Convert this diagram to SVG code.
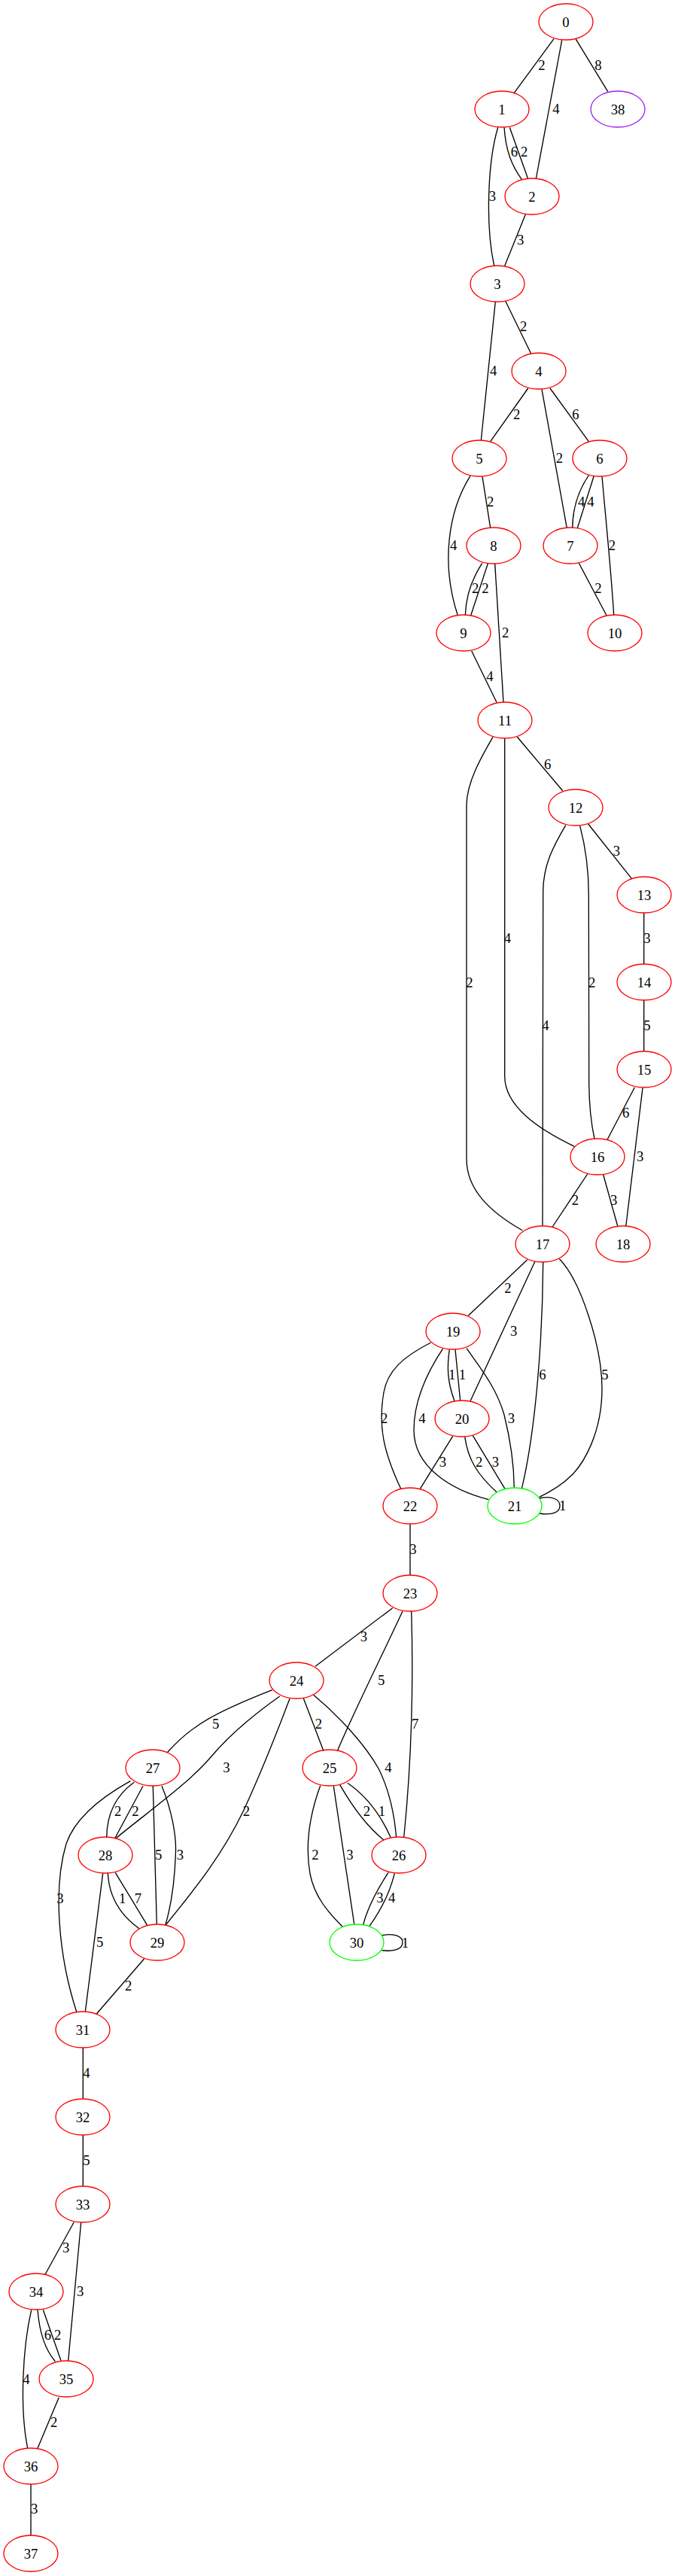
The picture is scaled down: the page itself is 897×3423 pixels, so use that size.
<svg xmlns="http://www.w3.org/2000/svg" width="897" height="3423" viewBox="0 0 897 3423">
<style>
.n ellipse{fill:none;stroke:#ff0000;stroke-width:1.33}
.g ellipse{stroke:#00ff00}
.p ellipse{stroke:#a020f0}
text{font-family:"Liberation Serif","Times New Roman",serif;font-size:18.67px;fill:#000;text-anchor:middle}
#edges path{fill:none;stroke:#000;stroke-width:1.33}
</style>
<rect width="897" height="3423" fill="#fff"/>
<g id="edges">
<path d="M736,51.7 L683.3,123.3"/>
<path d="M746.7,53.3 L712.3,237.7"/>
<path d="M765,51.7 L807.7,121.7"/>
<path d="M670,169.3 C672,200 680,220 693.3,238.3"/>
<path d="M677.3,169.3 L701.7,237.7"/>
<path d="M661.7,169.3 C648,215 645,300 656.7,353.3"/>
<path d="M698.3,285 L670.7,353.3"/>
<path d="M671.7,400 L705.7,470"/>
<path d="M658.3,401 L639.3,585"/>
<path d="M701.7,516 L651.7,586.7"/>
<path d="M720,517.3 L753.3,701.7"/>
<path d="M731,516 L782.3,586.7"/>
<path d="M641,633.3 L651.7,701.7"/>
<path d="M625,632.3 C595,680 586,750 608.3,817.7"/>
<path d="M782.3,631.7 C770,650 761,675 760.7,701.7"/>
<path d="M789.3,632.3 L767.3,701.7"/>
<path d="M800,633.3 C806,700 813,770 815.7,817.7"/>
<path d="M769.3,748.3 L806,817.7"/>
<path d="M640.7,748.3 C628,768 619,790 618.3,817.7"/>
<path d="M648.3,749 L625.7,817.7"/>
<path d="M657.7,749 L669,933.3"/>
<path d="M626.7,865 L660,933.3"/>
<path d="M687.3,979.3 L747.7,1050.7"/>
<path d="M655,979.3 C640,1005 620,1040 620,1070 L620,1540 C620,1580 650,1610 694.3,1635"/>
<path d="M670.7,981 L670.7,1430 C670.7,1470 715,1500 763.3,1523.3"/>
<path d="M751.7,1096.7 C735,1125 721.7,1150 721.7,1185 L721,1629"/>
<path d="M770.7,1097.3 C778,1125 782.3,1160 782.3,1190 L782.7,1440 C783,1475 786,1495 790,1513.3"/>
<path d="M781.7,1095 L839.3,1167.3"/>
<path d="M855.7,1213 L855.7,1281"/>
<path d="M855.7,1329 L855.7,1397"/>
<path d="M843.3,1445 L806.7,1515"/>
<path d="M854,1445.7 L831.7,1630"/>
<path d="M780.7,1560 L734.3,1630"/>
<path d="M801.7,1561 L821,1630"/>
<path d="M700.7,1674 L622.3,1748.3"/>
<path d="M711,1676 L625,1861.7"/>
<path d="M721.7,1676.7 C721,1780 712,1900 693.3,1978.3"/>
<path d="M743.3,1672.7 C772,1702 800,1790 800,1845 C800,1905 775,1945 760,1960 C745,1975 730,1983 716.7,1989.3"/>
<path d="M572.7,1784 C535,1803 515,1822 510,1850 C502,1895 510,1930 532.7,1978.3"/>
<path d="M588.3,1792.3 C570,1820 550,1860 550,1900 C550,1950 600,1980 649.3,1992.7"/>
<path d="M597.3,1793.3 C594,1815 594,1835 604,1861.7"/>
<path d="M605,1793.3 L611.7,1861.7"/>
<path d="M620,1791.7 C640,1820 660,1845 670,1880 C680,1920 683,1950 683.3,1976.7"/>
<path d="M601.7,1908.3 L558.3,1978.3"/>
<path d="M617.7,1909.3 C622,1940 635,1960 660,1982.7"/>
<path d="M628.3,1907.7 L671,1978.3"/>
<path d="M716.7,1991 C735,1987 744,1993 744,2001 C744,2009 735,2014 716.7,2011"/>
<path d="M545,2025.7 L545,2093.3"/>
<path d="M521.7,2136.7 L419,2214.3"/>
<path d="M535,2141 C510,2195 470,2275 448.3,2326.7"/>
<path d="M546.7,2141 C549,2220 548,2330 536.7,2441.7"/>
<path d="M403.3,2256.7 L430,2326.7"/>
<path d="M416.7,2252.3 C450,2280 485,2318 503,2350 C518,2380 524,2410 526.7,2441.7"/>
<path d="M451.7,2371.7 C465,2395 485,2425 510,2445"/>
<path d="M461.7,2369.3 C485,2385 505,2410 519.3,2441.7"/>
<path d="M425.7,2372.7 C412,2410 405,2450 412,2490 C418,2520 435,2540 455,2560"/>
<path d="M443.3,2373.3 L470.7,2556.7"/>
<path d="M516,2488.3 C505,2505 490,2530 482.7,2557.3"/>
<path d="M524.3,2489.3 C518,2515 505,2540 491,2559.3"/>
<path d="M507.3,2571.7 C526,2568 535,2574 535,2581 C535,2589 526,2594 507.3,2591.7"/>
<path d="M361.7,2245.7 C320,2262 280,2280 260,2295 C245,2305 232,2318 222.7,2328.3"/>
<path d="M371.7,2254 C335,2280 305,2305 280,2335 C250,2370 200,2405 153.3,2443.3"/>
<path d="M385,2257.3 C365,2310 345,2360 323.3,2406.7 C290,2475 250,2520 220,2558.3"/>
<path d="M173.3,2366.7 C135,2388 100,2415 88,2450 C70,2510 78,2600 101.7,2673.3"/>
<path d="M178.3,2368.3 C155,2385 142,2410 141.7,2441.7"/>
<path d="M190,2373.3 L152.7,2442.7"/>
<path d="M203.3,2373.3 L208.3,2556.7"/>
<path d="M215,2373.3 C228,2405 235,2440 233.3,2465 C232,2500 228,2530 220,2557.3"/>
<path d="M143.3,2489 C145,2520 160,2545 185,2562.7"/>
<path d="M153.3,2488.3 L195.7,2558.3"/>
<path d="M136.7,2489.3 L113.3,2673.3"/>
<path d="M191.7,2602.7 L128.3,2676"/>
<path d="M110.3,2721 L110.3,2789"/>
<path d="M110.3,2837 L110.3,2905"/>
<path d="M98.3,2952.7 L60,3022.3"/>
<path d="M107.7,2953.3 L90.7,3136.7"/>
<path d="M41.7,3069.3 C30,3120 26,3200 36.7,3253.3"/>
<path d="M50,3069.3 C52,3095 58,3120 73.3,3137.7"/>
<path d="M57.3,3069.3 L81,3136.7"/>
<path d="M78.3,3185.7 L50,3253.3"/>
<path d="M41,3301 L41,3369"/>
<g id="edge-labels">
<text x="720" y="93">2</text>
<text x="739" y="150.5">4</text>
<text x="795" y="92.5">8</text>
<text x="683.3" y="208">6</text>
<text x="696.7" y="208">2</text>
<text x="654.3" y="266.5">3</text>
<text x="691.7" y="324.8">3</text>
<text x="695.7" y="439.8">2</text>
<text x="655.7" y="498.8">4</text>
<text x="686.7" y="556.5">2</text>
<text x="743.3" y="614.8">2</text>
<text x="765" y="556.5">6</text>
<text x="651.7" y="673">2</text>
<text x="602.7" y="730.5">4</text>
<text x="772.7" y="673">4</text>
<text x="785" y="673">4</text>
<text x="813.3" y="730.5">2</text>
<text x="795" y="788">2</text>
<text x="631.7" y="788">2</text>
<text x="645" y="788">2</text>
<text x="671.7" y="847">2</text>
<text x="651" y="904.8">4</text>
<text x="727.7" y="1021.5">6</text>
<text x="624" y="1311.5">2</text>
<text x="674.3" y="1252.5">4</text>
<text x="725" y="1369">4</text>
<text x="786.7" y="1311.5">2</text>
<text x="819.3" y="1136.5">3</text>
<text x="860" y="1252.5">3</text>
<text x="860" y="1368.8">5</text>
<text x="831.7" y="1484.8">6</text>
<text x="850.7" y="1542.5">3</text>
<text x="764.3" y="1600.8">2</text>
<text x="815.7" y="1600.8">3</text>
<text x="675" y="1717.5">2</text>
<text x="682.7" y="1774.8">3</text>
<text x="721" y="1832.5">6</text>
<text x="804" y="1832.5">5</text>
<text x="510.7" y="1890.8">2</text>
<text x="561" y="1890.8">4</text>
<text x="600.7" y="1833">1</text>
<text x="614.3" y="1833">1</text>
<text x="679.3" y="1890.8">3</text>
<text x="588.3" y="1949">3</text>
<text x="636.7" y="1949">2</text>
<text x="658.3" y="1949">3</text>
<text x="747.7" y="2006.5">1</text>
<text x="549" y="2064.8">3</text>
<text x="483.3" y="2180.8">3</text>
<text x="506.7" y="2238.8">5</text>
<text x="551.7" y="2296.5">7</text>
<text x="423.3" y="2296.5">2</text>
<text x="516" y="2354.8">4</text>
<text x="487.3" y="2413">2</text>
<text x="507.3" y="2413">1</text>
<text x="419" y="2470.8">2</text>
<text x="465" y="2470.8">3</text>
<text x="505" y="2528">3</text>
<text x="520.7" y="2528">4</text>
<text x="538.3" y="2587.5">1</text>
<text x="286.7" y="2297">5</text>
<text x="301" y="2354.8">3</text>
<text x="327.3" y="2413">2</text>
<text x="80" y="2528.8">3</text>
<text x="156.7" y="2413">2</text>
<text x="180" y="2413">2</text>
<text x="210.7" y="2470.5">5</text>
<text x="239.3" y="2470.5">3</text>
<text x="162.7" y="2528.8">1</text>
<text x="183.3" y="2528.8">7</text>
<text x="132.7" y="2586.5">5</text>
<text x="170.7" y="2644.8">2</text>
<text x="115" y="2760.8">4</text>
<text x="115" y="2876.5">5</text>
<text x="87.7" y="2993">3</text>
<text x="106.7" y="3050.8">3</text>
<text x="35" y="3167.5">4</text>
<text x="63.3" y="3109">6</text>
<text x="76.7" y="3109">2</text>
<text x="71.7" y="3224.8">2</text>
<text x="45.7" y="3339.8">3</text>
</g>
</g>
<g id="node0" class="n"><ellipse cx="752" cy="29" rx="36" ry="24"/><text x="752" y="35.5">0</text></g>
<g id="node1" class="n"><ellipse cx="667" cy="145" rx="36" ry="24"/><text x="667" y="151.5">1</text></g>
<g id="node38" class="n p"><ellipse cx="821" cy="145" rx="36" ry="24"/><text x="821" y="151.5">38</text></g>
<g id="node2" class="n"><ellipse cx="707" cy="261" rx="36" ry="24"/><text x="707" y="267.5">2</text></g>
<g id="node3" class="n"><ellipse cx="661" cy="377" rx="36" ry="24"/><text x="661" y="383.5">3</text></g>
<g id="node4" class="n"><ellipse cx="716" cy="493" rx="36" ry="24"/><text x="716" y="499.5">4</text></g>
<g id="node5" class="n"><ellipse cx="637" cy="609" rx="36" ry="24"/><text x="637" y="615.5">5</text></g>
<g id="node6" class="n"><ellipse cx="797" cy="609" rx="36" ry="24"/><text x="797" y="615.5">6</text></g>
<g id="node8" class="n"><ellipse cx="656" cy="725" rx="36" ry="24"/><text x="656" y="731.5">8</text></g>
<g id="node7" class="n"><ellipse cx="758" cy="725" rx="36" ry="24"/><text x="758" y="731.5">7</text></g>
<g id="node9" class="n"><ellipse cx="616" cy="841" rx="36" ry="24"/><text x="616" y="847.5">9</text></g>
<g id="node10" class="n"><ellipse cx="817" cy="841" rx="36" ry="24"/><text x="817" y="847.5">10</text></g>
<g id="node11" class="n"><ellipse cx="671" cy="957" rx="36" ry="24"/><text x="671" y="963.5">11</text></g>
<g id="node12" class="n"><ellipse cx="765" cy="1073" rx="36" ry="24"/><text x="765" y="1079.5">12</text></g>
<g id="node13" class="n"><ellipse cx="856" cy="1189" rx="36" ry="24"/><text x="856" y="1195.5">13</text></g>
<g id="node14" class="n"><ellipse cx="856" cy="1305" rx="36" ry="24"/><text x="856" y="1311.5">14</text></g>
<g id="node15" class="n"><ellipse cx="856" cy="1421" rx="36" ry="24"/><text x="856" y="1427.5">15</text></g>
<g id="node16" class="n"><ellipse cx="794" cy="1537" rx="36" ry="24"/><text x="794" y="1543.5">16</text></g>
<g id="node17" class="n"><ellipse cx="721" cy="1653" rx="36" ry="24"/><text x="721" y="1659.5">17</text></g>
<g id="node18" class="n"><ellipse cx="828" cy="1653" rx="36" ry="24"/><text x="828" y="1659.5">18</text></g>
<g id="node19" class="n"><ellipse cx="602" cy="1769" rx="36" ry="24"/><text x="602" y="1775.5">19</text></g>
<g id="node20" class="n"><ellipse cx="614" cy="1885" rx="36" ry="24"/><text x="614" y="1891.5">20</text></g>
<g id="node22" class="n"><ellipse cx="545" cy="2001" rx="36" ry="24"/><text x="545" y="2007.5">22</text></g>
<g id="node21" class="n g"><ellipse cx="684" cy="2001" rx="36" ry="24"/><text x="684" y="2007.5">21</text></g>
<g id="node23" class="n"><ellipse cx="545" cy="2117" rx="36" ry="24"/><text x="545" y="2123.5">23</text></g>
<g id="node24" class="n"><ellipse cx="394" cy="2233" rx="36" ry="24"/><text x="394" y="2239.5">24</text></g>
<g id="node27" class="n"><ellipse cx="203" cy="2349" rx="36" ry="24"/><text x="203" y="2355.5">27</text></g>
<g id="node25" class="n"><ellipse cx="438" cy="2349" rx="36" ry="24"/><text x="438" y="2355.5">25</text></g>
<g id="node28" class="n"><ellipse cx="140" cy="2465" rx="36" ry="24"/><text x="140" y="2471.5">28</text></g>
<g id="node26" class="n"><ellipse cx="530" cy="2465" rx="36" ry="24"/><text x="530" y="2471.5">26</text></g>
<g id="node29" class="n"><ellipse cx="209" cy="2581" rx="36" ry="24"/><text x="209" y="2587.5">29</text></g>
<g id="node30" class="n g"><ellipse cx="474" cy="2581" rx="36" ry="24"/><text x="474" y="2587.5">30</text></g>
<g id="node31" class="n"><ellipse cx="110" cy="2697" rx="36" ry="24"/><text x="110" y="2703.5">31</text></g>
<g id="node32" class="n"><ellipse cx="110" cy="2813" rx="36" ry="24"/><text x="110" y="2819.5">32</text></g>
<g id="node33" class="n"><ellipse cx="110" cy="2929" rx="36" ry="24"/><text x="110" y="2935.5">33</text></g>
<g id="node34" class="n"><ellipse cx="48" cy="3045" rx="36" ry="24"/><text x="48" y="3051.5">34</text></g>
<g id="node35" class="n"><ellipse cx="88" cy="3161" rx="36" ry="24"/><text x="88" y="3167.5">35</text></g>
<g id="node36" class="n"><ellipse cx="41" cy="3277" rx="36" ry="24"/><text x="41" y="3283.5">36</text></g>
<g id="node37" class="n"><ellipse cx="41" cy="3393" rx="36" ry="24"/><text x="41" y="3399.5">37</text></g>
</svg>
